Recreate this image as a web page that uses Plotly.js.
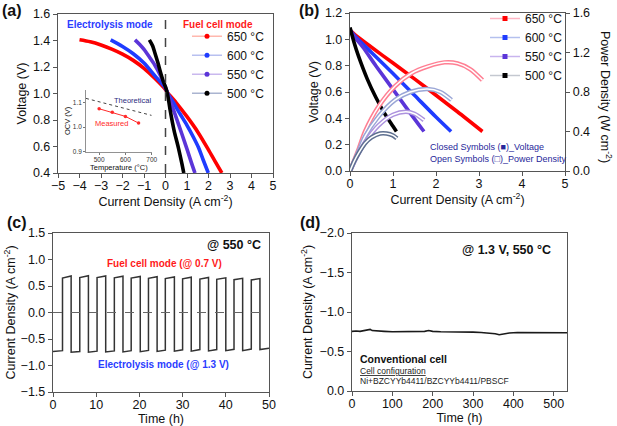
<!DOCTYPE html>
<html><head><meta charset="utf-8">
<script src="https://cdn.plot.ly/plotly-3.0.1.min.js"></script>
<style>html,body{margin:0;padding:0;background:#fff}#chart{width:617px;height:426px}</style>
</head><body><div id="chart"></div>
<script>
// ---------- Panel (a): I-V curves (electrolysis & fuel cell) ----------
const temps = ['650 °C', '600 °C', '550 °C', '500 °C'];
const a650I = [-4.0, -3.5, -3.0, -2.5, -2.0, -1.5, -1.0, -0.5, 0, 0.1, 0.5, 1.0, 1.5, 2.0, 2.3, 2.62];
const a650V = [1.405, 1.39, 1.366, 1.335, 1.297, 1.25, 1.19, 1.115, 1.03, 1.005, 0.93, 0.825, 0.71, 0.575, 0.49, 0.40];
const a600I = [-2.55, -2.0, -1.5, -1.0, -0.5, 0, 0.1, 0.3, 0.68, 1.0, 1.3, 1.53, 1.75, 1.99];
const a600V = [1.405, 1.355, 1.30, 1.23, 1.135, 1.04, 1.0, 0.95, 0.845, 0.76, 0.67, 0.594, 0.50, 0.40];
const a550I = [-1.42, -1.2, -1.0, -0.75, -0.5, -0.25, 0, 0.1, 0.45, 0.75, 1.0, 1.2, 1.37];
const a550V = [1.405, 1.37, 1.333, 1.275, 1.215, 1.14, 1.045, 1.0, 0.84, 0.70, 0.58, 0.48, 0.40];
const a500I = [-0.75, -0.6, -0.5, -0.35, -0.25, -0.1, 0, 0.1, 0.21, 0.4, 0.6, 0.75, 0.85];
const a500V = [1.405, 1.36, 1.31, 1.23, 1.17, 1.09, 1.05, 0.99, 0.88, 0.72, 0.59, 0.48, 0.40];

// inset: OCV vs temperature
const insetT = [500, 550, 600, 650];
const insetOCV = [1.074, 1.06, 1.043, 1.016];
const insetTheoT = [450, 700];
const insetTheoOCV = [1.116, 1.047];

// ---------- Panel (b): fuel cell I-V and power density ----------
const b650I = [0, 0.1, 0.5, 1.0, 1.5, 2.0, 2.5, 3.08];
const b650V = [1.07, 1.04, 0.94, 0.82, 0.70, 0.575, 0.45, 0.30];
const b600I = [0, 0.1, 0.5, 1.0, 1.5, 2.0, 2.35];
const b600V = [1.07, 1.03, 0.90, 0.74, 0.575, 0.41, 0.30];
const b550I = [0, 0.1, 0.3, 0.6, 1.0, 1.4, 1.72];
const b550V = [1.07, 1.02, 0.94, 0.80, 0.62, 0.44, 0.30];
const b500I = [0, 0.1, 0.2, 0.4, 0.6, 0.8, 1.0, 1.08];
const b500V = [1.09, 0.97, 0.87, 0.70, 0.56, 0.44, 0.34, 0.30];

const p650I = [0, 0.2, 0.35, 0.66, 1.05, 1.43, 1.82, 2.2, 2.5, 2.8, 3.08];
const p650P = [0, 0.22, 0.40, 0.65, 0.86, 0.99, 1.06, 1.10, 1.09, 1.03, 0.92];
const p600I = [0, 0.2, 0.35, 0.66, 1.05, 1.4, 1.8, 2.1, 2.36];
const p600P = [0, 0.20, 0.35, 0.55, 0.72, 0.80, 0.83, 0.80, 0.72];
const p550I = [0, 0.2, 0.35, 0.66, 1.0, 1.3, 1.5, 1.72];
const p550P = [0, 0.18, 0.29, 0.46, 0.57, 0.60, 0.58, 0.515];
const p500I = [0, 0.1, 0.2, 0.35, 0.5, 0.7, 0.85, 1.0, 1.09];
const p500P = [0, 0.10, 0.18, 0.28, 0.34, 0.38, 0.38, 0.36, 0.33];

// ---------- Panel (c): reversible cycling at 550 °C ----------
const cRise = [2.2, 6.2, 10.2, 14.2, 18.1, 22.1, 26.0, 30.0, 34.0, 37.9, 41.9, 45.9];
const cFall = [4.2, 8.2, 12.2, 16.2, 20.2, 24.1, 28.1, 32.0, 36.0, 40.0, 43.9, 47.9];
const cFcStart = [0.65, 0.66, 0.66, 0.655, 0.65, 0.645, 0.64, 0.635, 0.63, 0.625, 0.62, 0.615];
const cFcEnd = [0.69, 0.695, 0.69, 0.685, 0.68, 0.675, 0.67, 0.665, 0.66, 0.655, 0.645, 0.64];
const cEcStart = [-0.735, -0.75, -0.75, -0.745, -0.745, -0.74, -0.735, -0.73, -0.73, -0.725, -0.72, -0.72, -0.70];
const cEcEnd = [-0.72, -0.735, -0.73, -0.725, -0.72, -0.715, -0.71, -0.705, -0.70, -0.70, -0.695, -0.69, -0.675];
const cEndTime = 50;

// ---------- Panel (d): long-term electrolysis ----------
const dTime = [0, 10, 20, 30, 40, 45, 50, 60, 80, 100, 120, 150, 180, 190, 200, 220, 250, 280, 300, 320, 340, 355, 365, 375, 390, 410, 440, 470, 500, 533];
const dCur = [-0.755, -0.76, -0.755, -0.765, -0.77, -0.78, -0.765, -0.76, -0.755, -0.75, -0.752, -0.748, -0.755, -0.765, -0.755, -0.75, -0.75, -0.745, -0.745, -0.74, -0.735, -0.725, -0.712, -0.725, -0.735, -0.74, -0.738, -0.74, -0.735, -0.737];

// ---------- helpers ----------
const W = 617, H = 426;
const PX = v => v / W;
const PY = v => 1 - v / H;
const FONT = '"Liberation Sans", Arial, sans-serif';
const cA = ['#ff0000', '#1f3cff', '#5b35d8', '#000000'];
const cP = ['#ff7f93', '#9aa6d6', '#ad93de', '#5f7090'];
const cLegA = ['#ffb8ae', '#b8c0f0', '#c9b8ee', '#aab4d0'];
const cLegB = ['#ffb6c4', '#b4c0ee', '#c8b4ee', '#c4c8d0'];

function ax(extra) {
  return Object.assign({
    showline: true, linecolor: '#555', linewidth: 1.2, mirror: true,
    ticks: 'outside', ticklen: 4, tickwidth: 1, tickcolor: '#555',
    tickfont: {size: 12.5, color: '#111', family: FONT},
    showgrid: false, zeroline: false, fixedrange: true
  }, extra);
}
function xax(extra) { return ax(Object.assign({ticklabelstandoff: -3}, extra)); }
function ttl(text, standoff, size) {
  return {text: text, standoff: standoff, font: {size: size || 12.5, color: '#111', family: FONT}};
}

const traces = [];
// (a)
const aI = [a650I, a600I, a550I, a500I], aV = [a650V, a600V, a550V, a500V];
for (let k = 0; k < 4; k++) {
  traces.push({x: aI[k], y: aV[k], xaxis: 'x', yaxis: 'y', mode: 'lines', showlegend: false,
    line: {color: cA[k], width: 3.6, shape: 'spline', smoothing: 0.8}});
}
// legend entries for (a): style-only entries with no plotted point
for (let k = 0; k < 4; k++) {
  traces.push({x: [null], y: [null], xaxis: 'x', yaxis: 'y', mode: 'lines+markers', name: temps[k], legend: 'legend',
    showlegend: true, line: {color: cLegA[k], width: 1.5}, marker: {size: 5, color: cA[k]}});
}
// inset
traces.push({x: insetTheoT, y: insetTheoOCV, xaxis: 'x5', yaxis: 'y5', mode: 'lines',
  line: {color: '#444', width: 1, dash: 'dot'}, showlegend: false});
traces.push({x: insetT, y: insetOCV, xaxis: 'x5', yaxis: 'y5', mode: 'lines+markers',
  line: {color: '#ff2a2a', width: 1}, marker: {size: 3.5, color: '#ff2a2a'}, showlegend: false});

// (b) power (open symbols, right axis) - hollow chain look
const pI = [p650I, p600I, p550I, p500I], pP = [p650P, p600P, p550P, p500P];
for (let k = 0; k < 4; k++) {
  traces.push({x: pI[k], y: pP[k], xaxis: 'x2', yaxis: 'y6', mode: 'lines', showlegend: false,
    line: {color: cP[k], width: 4.5, shape: 'spline', smoothing: 0.8}});
  traces.push({x: pI[k], y: pP[k], xaxis: 'x2', yaxis: 'y6', mode: 'lines', showlegend: false,
    line: {color: '#ffffff', width: 1.5, shape: 'spline', smoothing: 0.8}});
}
// (b) voltage (closed symbols)
const bI = [b650I, b600I, b550I, b500I], bV = [b650V, b600V, b550V, b500V];
for (let k = 0; k < 4; k++) {
  traces.push({x: bI[k], y: bV[k], xaxis: 'x2', yaxis: 'y2', mode: 'lines', showlegend: false,
    line: {color: cA[k], width: 3.6, shape: 'spline', smoothing: 0.8}});
}
for (let k = 0; k < 4; k++) {
  traces.push({x: [null], y: [null], xaxis: 'x2', yaxis: 'y2', mode: 'lines+markers', name: temps[k], legend: 'legend2',
    showlegend: true, line: {color: cLegB[k], width: 1.5}, marker: {size: 5, color: cA[k], symbol: 'square'}});
}

// (c) square wave assembled from read switching times and plateau levels
const cx = [0], cy = [cEcStart[0]];
for (let k = 0; k < cRise.length; k++) {
  cx.push(cRise[k]); cy.push(cEcEnd[k]);
  cx.push(cRise[k]); cy.push(cFcStart[k]);
  cx.push(cFall[k]); cy.push(cFcEnd[k]);
  cx.push(cFall[k]); cy.push(cEcStart[k + 1]);
}
cx.push(cEndTime); cy.push(cEcEnd[cEcEnd.length - 1]);
traces.push({x: cx, y: cy, xaxis: 'x3', yaxis: 'y3', mode: 'lines', showlegend: false,
  line: {color: '#333', width: 1.5}});

// (d)
traces.push({x: dTime, y: dCur, xaxis: 'x4', yaxis: 'y4', mode: 'lines', showlegend: false,
  line: {color: '#1a1a1a', width: 1.6}});

function ann(text, x, y, size, color, xanchor, extra) {
  return Object.assign({text: text, x: PX(x), y: PY(y), xref: 'paper', yref: 'paper',
    showarrow: false, xanchor: xanchor || 'center', yanchor: 'middle',
    font: {size: size, color: color, family: FONT}}, extra || {});
}

const layout = {
  width: W, height: H, margin: {l: 0, r: 0, t: 0, b: 0},
  paper_bgcolor: '#fff', plot_bgcolor: 'rgba(0,0,0,0)',
  font: {family: FONT, color: '#111'},
  showlegend: true,
  xaxis: xax({domain: [PX(58), PX(273)], anchor: 'y', range: [-5, 5], dtick: 1,
    title: ttl('Current Density (A cm<sup>-2</sup>)', 3)}),
  yaxis: ax({domain: [PY(173), PY(14)], anchor: 'x', range: [0.4, 1.6], dtick: 0.2, tickformat: '.1f',
    title: ttl('Voltage (V)', 3)}),
  xaxis2: xax({domain: [PX(350), PX(565)], anchor: 'y2', range: [0, 5], dtick: 1,
    title: ttl('Current Density (A cm<sup>-2</sup>)', 3)}),
  yaxis2: ax({domain: [PY(171), PY(13)], anchor: 'x2', range: [0, 1.2], dtick: 0.2, tickformat: '.1f', mirror: false,
    title: ttl('Voltage (V)', 3)}),
  yaxis6: ax({overlaying: 'y2', side: 'right', anchor: 'x2', range: [0, 1.6], dtick: 0.4, tickformat: '.1f', mirror: false}),
  xaxis3: xax({domain: [PX(53), PX(269)], anchor: 'y3', range: [0, 50], dtick: 10,
    title: ttl('Time (h)', 3)}),
  yaxis3: ax({domain: [PY(392), PY(233)], anchor: 'x3', range: [-1.5, 1.5], dtick: 0.5, tickformat: '.1f',
    title: ttl('Current Density (A cm<sup>-2</sup>)', 2)}),
  xaxis4: xax({domain: [PX(352), PX(567)], anchor: 'y4', range: [0, 533], dtick: 100,
    title: ttl('Time (h)', 3)}),
  yaxis4: ax({domain: [PY(391), PY(233)], anchor: 'x4', range: [0, -2], dtick: 0.5, tickformat: '.1f',
    title: ttl('Current Density (A cm<sup>-2</sup>)', 4)}),
  xaxis5: ax({domain: [PX(86), PX(151.7)], anchor: 'y5', range: [450, 700], tickvals: [500, 600, 700], mirror: false,
    linewidth: 0.8, linecolor: '#777', ticklen: 2, tickcolor: '#777', tickfont: {size: 6.5, color: '#333', family: FONT},
    title: ttl('Temperature (°C)', 1, 7.5)}),
  yaxis5: ax({domain: [PY(151.7), PY(90)], anchor: 'x5', range: [0.9, 1.15], tickvals: [0.9, 1.0, 1.1], tickformat: '.1f', mirror: false,
    linewidth: 0.8, linecolor: '#777', ticklen: 2, tickcolor: '#777', tickfont: {size: 6.5, color: '#333', family: FONT},
    title: ttl('OCV (V)', 1, 7.5)}),
  legend: {x: PX(187), y: PY(64.7), xanchor: 'left', yanchor: 'middle', bgcolor: 'rgba(0,0,0,0)',
    font: {size: 12, color: '#111', family: FONT}, itemwidth: 30, tracegroupgap: 0},
  legend2: {x: PX(485), y: PY(47), xanchor: 'left', yanchor: 'middle', bgcolor: 'rgba(0,0,0,0)',
    font: {size: 12, color: '#111', family: FONT}, itemwidth: 30, tracegroupgap: 0},
  shapes: [
    {type: 'line', xref: 'x', yref: 'y domain', x0: 0, x1: 0, y0: 0, y1: 1,
      line: {color: '#444', width: 1.5, dash: 'dash'}},
    {type: 'line', xref: 'x3 domain', yref: 'y3', x0: 0, x1: 1, y0: 0, y1: 0,
      line: {color: '#666', width: 1, dash: 'dash'}}
  ],
  annotations: [
    ann('<b>(a)</b>', 0, 10.5, 16, '#111', 'left'),
    ann('<b>(b)</b>', 297, 10.5, 16, '#111', 'left'),
    ann('<b>(c)</b>', 5, 222, 16, '#111', 'left'),
    ann('<b>(d)</b>', 298, 222, 16, '#111', 'left'),
    ann('<b>Electrolysis mode</b>', 110, 24, 10, '#2a3cff'),
    ann('<b>Fuel cell mode</b>', 218, 24, 10, '#ff1a1a'),
    ann('Theoretical', 132, 100.7, 7.5, '#2c2c80'),
    ann('Measured', 111, 124, 7.5, '#ff2a2a'),
    ann('Power Density (W cm<sup>-2</sup>)', 606.7, 96.7, 12.5, '#111', 'center', {textangle: 90}),
    ann('Closed Symbols (■)_Voltage', 428.3, 146.7, 9, '#27279a', 'left'),
    ann('Open Symbols (□)_Power Density', 428.3, 159.3, 9, '#27279a', 'left'),
    ann('<b>@ 550 °C</b>', 263, 245, 12.5, '#111', 'right'),
    ann('<b>Fuel cell mode (@ 0.7 V)</b>', 164, 263.3, 10, '#ff1a1a'),
    ann('<b>Electrolysis mode (@ 1.3 V)</b>', 163.3, 364, 10, '#2a3cff'),
    ann('<b>@ 1.3 V, 550 °C</b>', 553, 250, 12.5, '#111', 'right'),
    ann('<b>Conventional cell</b>', 358, 359, 10.5, '#111', 'left'),
    ann('<u>Cell configuration</u>', 358, 371, 8.5, '#222', 'left'),
    ann('Ni+BZCYYb4411/BZCYYb4411/PBSCF', 358, 381, 8.5, '#222', 'left')
  ]
};

Plotly.newPlot('chart', traces, layout, {staticPlot: true, displayModeBar: false});
</script></body></html>
